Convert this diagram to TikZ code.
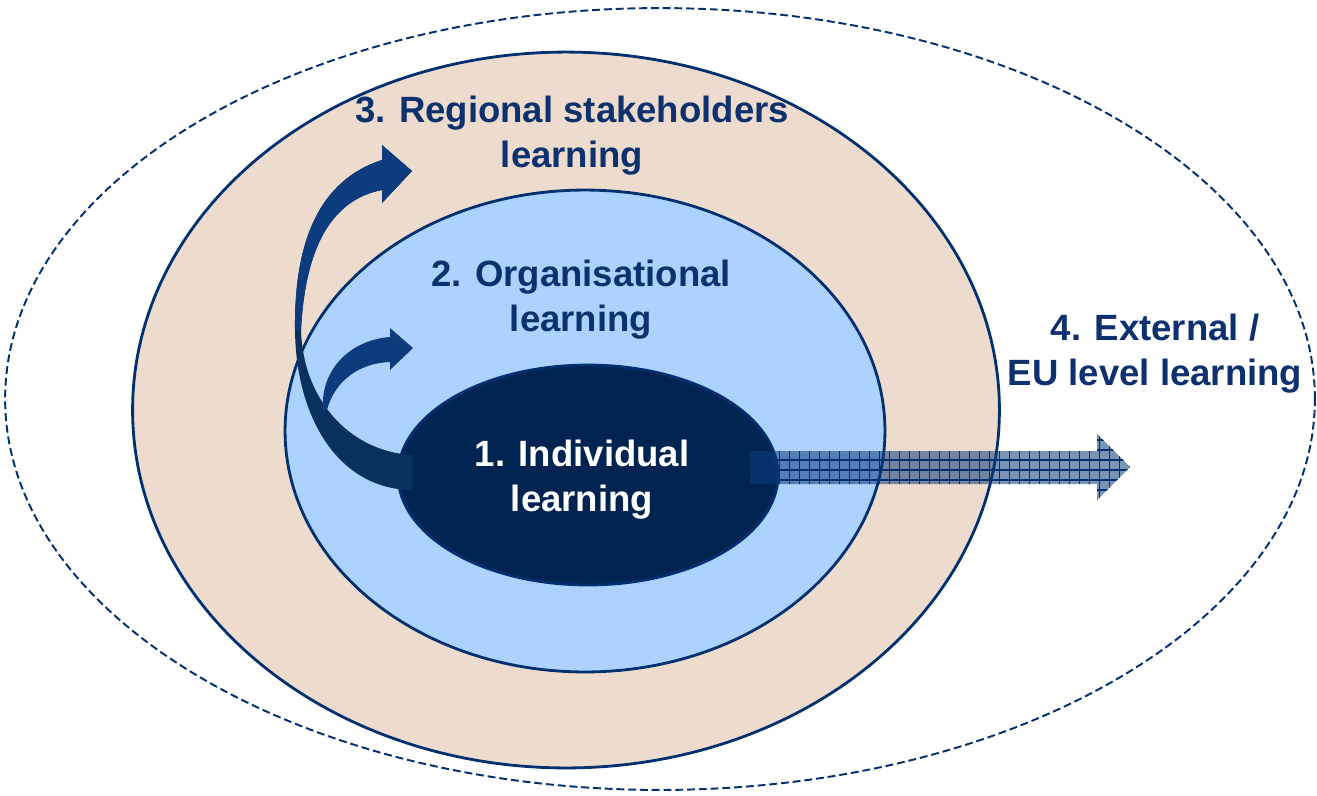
\documentclass[tikz,border=0pt]{standalone}
\usepackage{fontspec}
\setmainfont{Liberation Sans}
\usetikzlibrary{shapes.geometric}
\definecolor{navy}{RGB}{0,48,112}
\definecolor{textblue}{RGB}{13,48,110}
\definecolor{tanfill}{RGB}{237,220,205}
\definecolor{skyfill}{RGB}{173,210,255}
\definecolor{darkfill}{RGB}{0,36,82}
\definecolor{arrowblue}{RGB}{12,60,125}
\definecolor{arrowdark}{RGB}{10,48,96}
\begin{document}
\begin{tikzpicture}[x=0.02cm,y=-0.02cm,
    ring/.style={ellipse,draw=navy,line width=1.6pt,inner sep=0pt},
    label/.style={text=textblue,font=\bfseries\fontsize{20.8}{25.5}\selectfont,align=center},
    swoosh/.style={fill=arrowblue}]
  \useasboundingbox (0,0) rectangle (1317,795);
  % rings
  \node[ring,line width=1.1pt,dash pattern=on 4.5pt off 2.2pt,minimum width=26.2cm,minimum height=15.64cm] (ext) at (660,399) {};
  \node[ring,fill=tanfill,minimum width=17.34cm,minimum height=14.32cm] (reg) at (566,410) {};
  \node[ring,fill=skyfill,minimum width=12cm,minimum height=9.64cm] (org) at (585,431) {};
  \node[ring,fill=darkfill,minimum width=7.6cm,minimum height=4.4cm] (ind) at (588,475) {};
  % labels
  \node[label] (regtxt) at (572,136) {3. Regional stakeholders\\learning};
  \node[label] (orgtxt) at (581,300) {2. Organisational\\learning};
  \node[label,text=white] (indtxt) at (582,480) {1. Individual\\learning};
  \node[label] (exttxt) at (1155,354) {4. External /\\EU level learning};
  % curved arrows
  \fill[arrowdark] (413,490) .. controls (340,490) and (296,420) .. (295,330)
    .. controls (294,240) and (320,180) .. (382,160) -- (382,145) -- (412,171)
    -- (382,203) -- (382,190) .. controls (330,200) and (305,250) .. (301,330)
    .. controls (303,400) and (350,452) .. (413,455) -- cycle;
  \fill[swoosh] (295,330) .. controls (294,240) and (320,180) .. (382,160)
    -- (382,145) -- (412,171) -- (382,203) -- (382,190)
    .. controls (330,200) and (305,250) .. (301,330) -- cycle;
  \fill[swoosh] (323,410) .. controls (320,370) and (350,340) .. (390,337)
    -- (390,328) -- (413,348) -- (390,370) -- (390,362)
    .. controls (360,363) and (335,380) .. (327,410) -- cycle;
  % hatched arrow
  \coordinate (hstart) at (750,467);
  \coordinate (htip) at (1130,467);
  \begin{scope}
    \clip (750,451) -- (1097,451) -- (1097,434) -- (htip)
      -- (1097,500) -- (1097,484) -- (750,484) -- cycle;
    \fill[arrowblue,fill opacity=0.55] (740,420) rectangle (1140,510);
    \draw[navy,line width=0.7pt,step=0.2cm] (740,420) grid (1140,510);
  \end{scope}
\end{tikzpicture}
\end{document}
